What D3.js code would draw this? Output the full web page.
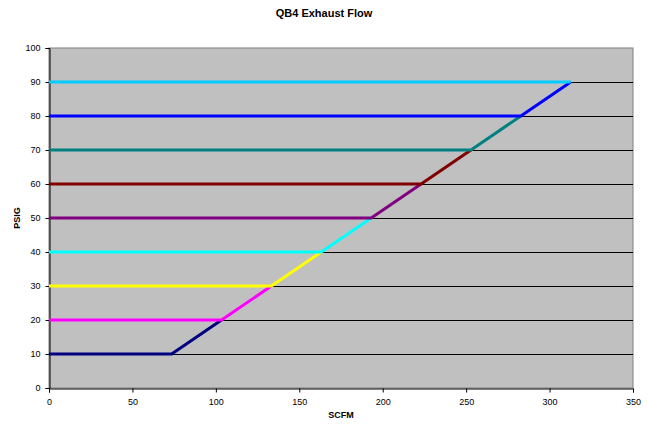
<!DOCTYPE html>
<html>
<head>
<meta charset="utf-8">
<script src="https://cdn.jsdelivr.net/npm/d3@7"></script>
<style>
  body { margin: 0; background: #fff; }
  svg { display: block; font-family: "Liberation Sans", Arial, sans-serif; }
</style>
</head>
<body>
<svg id="chart" width="648" height="426"></svg>
<script>
// pressure levels (PSIG) and the flow where each level's curve bends (SCFM)
const levels = [10, 20, 30, 40, 50, 60, 70, 80, 90];
const knees = [73.5, 103.4, 133.3, 163.2, 193.1, 223.0, 252.9, 282.8, 312.7];
const colors = ["#000080", "#FF00FF", "#FFFF00", "#00FFFF", "#800080", "#800000", "#008080", "#0000FF", "#00CCFF"];
const xTicks = [0, 50, 100, 150, 200, 250, 300, 350];
const yTicks = [0, 10, 20, 30, 40, 50, 60, 70, 80, 90, 100];

const svg = d3.select("#chart");
const margin = { left: 49, right: 15, top: 48, bottom: 38 };
const width = 648, height = 426;

const x = d3.scaleLinear().domain([0, 350]).range([margin.left, width - margin.right]);
const y = d3.scaleLinear().domain([0, 100]).range([height - margin.bottom, margin.top]);

// plot area
svg.append("rect")
    .attr("x", x(0)).attr("y", y(100))
    .attr("width", x(350) - x(0)).attr("height", y(0) - y(100))
    .attr("fill", "#C0C0C0")
    .attr("stroke", "#808080")
    .attr("stroke-width", 1);

// gridlines
svg.append("g")
    .selectAll("line")
    .data(yTicks.filter(d => d > 0 && d < 100))
    .join("line")
    .attr("x1", x(0)).attr("x2", x(350))
    .attr("y1", d => Math.round(y(d)) + 0.5).attr("y2", d => Math.round(y(d)) + 0.5)
    .attr("stroke", "#000")
    .attr("stroke-width", 1);

// axes
const xAxis = svg.append("g")
    .attr("transform", `translate(0,${Math.round(y(0)) + 0.5})`)
    .call(d3.axisBottom(x).tickValues(xTicks).tickSize(4).tickPadding(6));
const yAxis = svg.append("g")
    .attr("transform", `translate(${Math.round(x(0)) + 0.5},0)`)
    .call(d3.axisLeft(y).tickValues(yTicks).tickSize(4).tickPadding(5));

[xAxis, yAxis].forEach(a => {
    a.select(".domain").attr("stroke", "#000");
    a.selectAll(".tick line").attr("stroke", "#000");
    a.selectAll(".tick text")
        .attr("fill", "#000")
        .style("font-size", "9px")
        .style("font-family", "Liberation Sans, Arial, sans-serif");
});

// series: flat at the level up to the knee, then up to the next knee
const series = levels.map((p, i) => {
    const pts = [[0, p], [knees[i], p]];
    if (i < levels.length - 1) pts.push([knees[i + 1], levels[i + 1]]);
    return { color: colors[i], pts };
});

const line = d3.line().x(d => x(d[0])).y(d => y(d[1]));

svg.append("g")
    .selectAll("path")
    .data(series)
    .join("path")
    .attr("d", d => line(d.pts))
    .attr("fill", "none")
    .attr("stroke", d => d.color)
    .attr("stroke-width", 3)
    .attr("stroke-linejoin", "round");

// titles
svg.append("text")
    .attr("x", 324).attr("y", 17)
    .attr("text-anchor", "middle")
    .style("font-size", "11px").style("font-weight", "bold")
    .text("QB4 Exhaust Flow");

svg.append("text")
    .attr("x", (x(0) + x(350)) / 2).attr("y", 418)
    .attr("text-anchor", "middle")
    .style("font-size", "9px").style("font-weight", "bold")
    .text("SCFM");

svg.append("text")
    .attr("transform", `translate(20,${(y(0) + y(100)) / 2}) rotate(-90)`)
    .attr("text-anchor", "middle")
    .style("font-size", "9px").style("font-weight", "bold")
    .text("PSIG");
</script>
</body>
</html>
